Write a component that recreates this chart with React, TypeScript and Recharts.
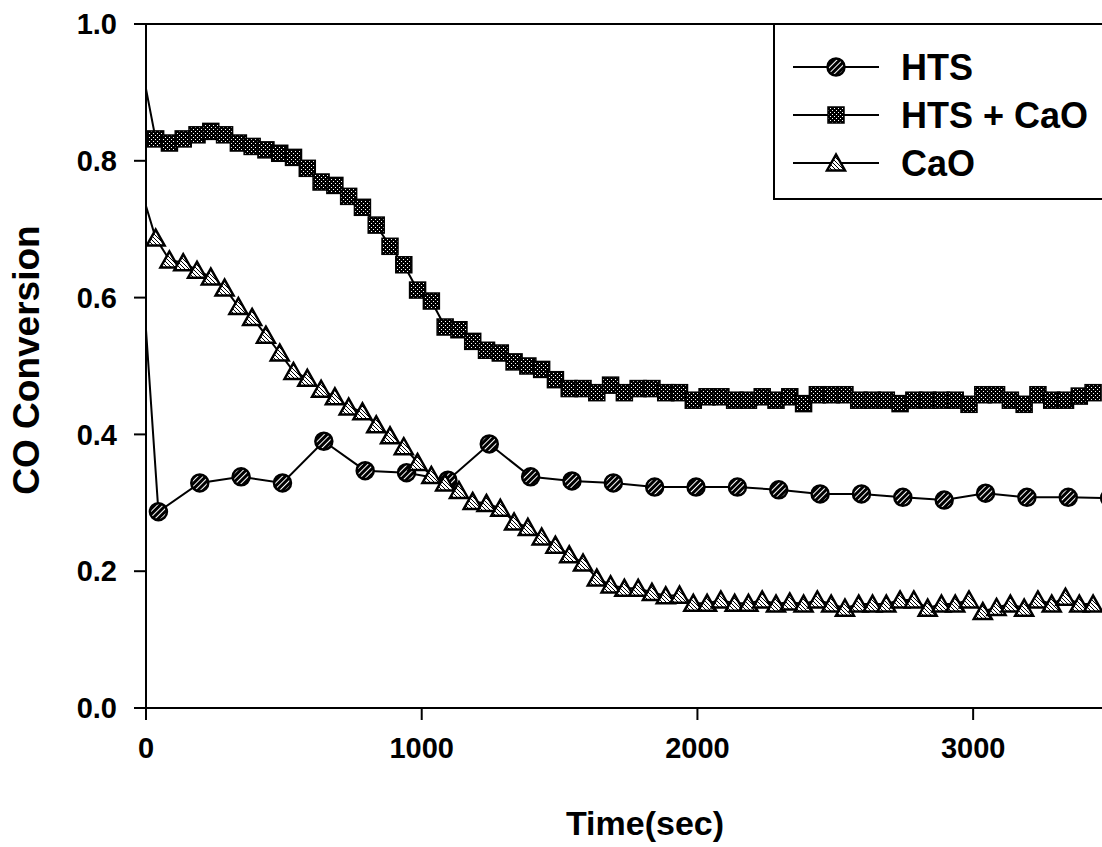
import React from "react";
import { LineChart, Line, XAxis, YAxis, ReferenceLine, Legend } from "recharts";

// HTS alone: one reading every 150 s
const HTS_TIME = [0, 45, 195, 345, 495, 645, 795, 945, 1095, 1245, 1395, 1545, 1695, 1845, 1995, 2145, 2295, 2445, 2595, 2745, 2895, 3045, 3195, 3345, 3495];
const HTS_VALUES = [0.553, 0.287, 0.329, 0.338, 0.329, 0.390, 0.347, 0.344, 0.333, 0.386, 0.338, 0.332, 0.329, 0.323, 0.323, 0.323, 0.319, 0.313, 0.313, 0.308, 0.304, 0.314, 0.308, 0.308, 0.307];

// HTS + CaO and CaO: one reading every 50 s
const MIX_TIME = [
  0, 35, 85, 135, 185, 235, 285, 335, 385, 435, 485, 535, 585, 635, 685, 735, 785, 835, 885, 935, 985,
  1035, 1085, 1135, 1185, 1235, 1285, 1335, 1385, 1435, 1485, 1535, 1585, 1635, 1685, 1735, 1785, 1835,
  1885, 1935, 1985, 2035, 2085, 2135, 2185, 2235, 2285, 2335, 2385, 2435, 2485, 2535, 2585, 2635, 2685,
  2735, 2785, 2835, 2885, 2935, 2985, 3035, 3085, 3135, 3185, 3235, 3285, 3335, 3385, 3435,
];
const HTS_CAO_VALUES = [
  0.905, 0.832, 0.826, 0.832, 0.838, 0.843, 0.838, 0.826, 0.821, 0.816, 0.811, 0.805, 0.789, 0.769, 0.764,
  0.748, 0.732, 0.706, 0.675, 0.648, 0.611, 0.595, 0.557, 0.553, 0.536, 0.523, 0.519, 0.506, 0.500, 0.495,
  0.480, 0.467, 0.467, 0.461, 0.472, 0.461, 0.467, 0.467, 0.461, 0.461, 0.450, 0.455, 0.455, 0.450, 0.450,
  0.455, 0.450, 0.455, 0.445, 0.458, 0.458, 0.458, 0.450, 0.450, 0.450, 0.445, 0.450, 0.450, 0.450, 0.450,
  0.444, 0.458, 0.458, 0.450, 0.444, 0.458, 0.450, 0.450, 0.456, 0.461,
];
const CAO_VALUES = [
  0.734, 0.687, 0.655, 0.651, 0.640, 0.630, 0.614, 0.587, 0.571, 0.545, 0.519, 0.492, 0.482, 0.466, 0.455,
  0.440, 0.433, 0.414, 0.398, 0.382, 0.359, 0.340, 0.329, 0.318, 0.302, 0.299, 0.292, 0.272, 0.264, 0.250,
  0.238, 0.224, 0.212, 0.190, 0.180, 0.175, 0.175, 0.169, 0.164, 0.165, 0.153, 0.153, 0.158, 0.153, 0.153,
  0.158, 0.152, 0.155, 0.152, 0.158, 0.152, 0.146, 0.152, 0.152, 0.152, 0.158, 0.158, 0.146, 0.152, 0.152,
  0.158, 0.141, 0.147, 0.152, 0.146, 0.158, 0.152, 0.162, 0.152, 0.152,
];

const X_TICKS = [0, 1000, 2000, 3000];
const Y_TICKS = [0, 0.2, 0.4, 0.6, 0.8, 1.0];
const SERIES_NAMES = ["HTS", "HTS + CaO", "CaO"];

const htsData = HTS_TIME.map((t, i) => ({ t, v: HTS_VALUES[i] }));
const htsCaoData = MIX_TIME.map((t, i) => ({ t, v: HTS_CAO_VALUES[i] }));
const caoData = MIX_TIME.map((t, i) => ({ t, v: CAO_VALUES[i] }));

const FONT = "'Liberation Sans', Arial, Helvetica, sans-serif";

// marker shapes, shared by the plot and the legend
const circleMark = (cx: number, cy: number, key?: string) => (
  <circle key={key} cx={cx} cy={cy} r={8.5} fill="url(#pat-hts)" stroke="#000" strokeWidth={2.5} />
);
const squareMark = (cx: number, cy: number, key?: string) => (
  <rect key={key} x={cx - 8} y={cy - 8} width={16} height={16} fill="url(#pat-mix)" stroke="#000" strokeWidth={1.5} />
);
const triangleMark = (cx: number, cy: number, key?: string) => (
  <polygon
    key={key}
    points={`${cx},${cy - 8.5} ${cx - 9},${cy + 7.5} ${cx + 9},${cy + 7.5}`}
    fill="url(#pat-cao)"
    stroke="#000"
    strokeWidth={2.5}
    strokeLinejoin="miter"
  />
);

// first reading (t = 0) has no marker
const makeDot = (mark: typeof circleMark, name: string) => (props: any) => {
  const { cx, cy, index, payload } = props;
  const key = `${name}-${index}`;
  if (cx == null || cy == null || payload?.t === 0) return <g key={key} />;
  return mark(cx, cy, key);
};

const renderLegend = () => {
  const marks = [circleMark, squareMark, triangleMark];
  return (
    <div style={{ width: 340, height: 177, border: "2px solid #000", background: "#fff", boxSizing: "border-box" }}>
      <svg width={336} height={173}>
        {SERIES_NAMES.map((name, i) => {
          const y = 42 + i * 48;
          return (
            <g key={name}>
              <line x1={18} x2={104} y1={y} y2={y} stroke="#000" strokeWidth={2} />
              {marks[i](61, y)}
              <text x={126} y={y + 13} fontFamily={FONT} fontWeight={700} fontSize={36} fill="#000">
                {name}
              </text>
            </g>
          );
        })}
      </svg>
    </div>
  );
};

const axisText = { fill: "#000", fontSize: 29, fontWeight: 700, fontFamily: FONT };

export default function App() {
  return (
    <div style={{ position: "fixed", left: 0, top: 0, width: 1102, height: 847, overflow: "hidden", background: "#fff" }}>
      <LineChart width={1112} height={847} margin={{ top: 24, right: 1, bottom: 0, left: 0 }}>
        <defs>
          <pattern id="pat-hts" width="4" height="4" patternUnits="userSpaceOnUse" patternTransform="rotate(45)">
            <rect width="4" height="4" fill="#000" />
            <rect x="0" y="0" width="1" height="4" fill="#fff" />
          </pattern>
          <pattern id="pat-mix" width="4" height="4" patternUnits="userSpaceOnUse">
            <rect width="4" height="4" fill="#000" />
            <rect x="1" y="1" width="1" height="1" fill="#fff" />
            <rect x="3" y="3" width="1" height="1" fill="#fff" />
          </pattern>
          <pattern id="pat-cao" width="4" height="4" patternUnits="userSpaceOnUse">
            <rect width="4" height="4" fill="#fff" />
            <rect x="0" y="0" width="1" height="1" fill="#000" />
            <rect x="1" y="1" width="1" height="1" fill="#000" />
            <rect x="2" y="2" width="1" height="1" fill="#000" />
            <rect x="3" y="3" width="1" height="1" fill="#000" />
          </pattern>
        </defs>
        <XAxis
          type="number"
          dataKey="t"
          domain={[0, 3500]}
          ticks={X_TICKS}
          allowDataOverflow
          height={139}
          tickSize={12}
          tickMargin={17}
          axisLine={{ stroke: "#000", strokeWidth: 2 }}
          tickLine={{ stroke: "#000", strokeWidth: 2 }}
          tick={axisText}
          label={{
            content: () => (
              <text x={645} y={835} textAnchor="middle" fontFamily={FONT} fontWeight={700} fontSize={34} fill="#000">
                Time(sec)
              </text>
            ),
          }}
        />
        <YAxis
          type="number"
          domain={[0, 1]}
          ticks={Y_TICKS}
          width={146}
          tickSize={12}
          tickMargin={17}
          tickFormatter={(v: number) => v.toFixed(1)}
          axisLine={{ stroke: "#000", strokeWidth: 2 }}
          tickLine={{ stroke: "#000", strokeWidth: 2 }}
          tick={axisText}
          label={{
            content: () => (
              <text
                x={26}
                y={360}
                transform="rotate(-90 26 360)"
                textAnchor="middle"
                dominantBaseline="central"
                fontFamily={FONT}
                fontWeight={700}
                fontSize={37}
                fill="#000"
              >
                CO Conversion
              </text>
            ),
          }}
        />
        <ReferenceLine y={1} stroke="#000" strokeWidth={2} ifOverflow="visible" />
        <ReferenceLine x={3500} stroke="#000" strokeWidth={2} ifOverflow="visible" />
        <Line
          data={htsData}
          dataKey="v"
          name={SERIES_NAMES[0]}
          stroke="#000"
          strokeWidth={2}
          dot={makeDot(circleMark, "hts")}
          activeDot={false}
          isAnimationActive={false}
        />
        <Line
          data={htsCaoData}
          dataKey="v"
          name={SERIES_NAMES[1]}
          stroke="#000"
          strokeWidth={2}
          dot={makeDot(squareMark, "mix")}
          activeDot={false}
          isAnimationActive={false}
        />
        <Line
          data={caoData}
          dataKey="v"
          name={SERIES_NAMES[2]}
          stroke="#000"
          strokeWidth={2}
          dot={makeDot(triangleMark, "cao")}
          activeDot={false}
          isAnimationActive={false}
        />
        <Legend
          layout="vertical"
          align="center"
          verticalAlign="middle"
          content={renderLegend}
          wrapperStyle={{ position: "absolute", left: 773, top: 23, width: 340, height: 177 }}
        />
      </LineChart>
    </div>
  );
}
